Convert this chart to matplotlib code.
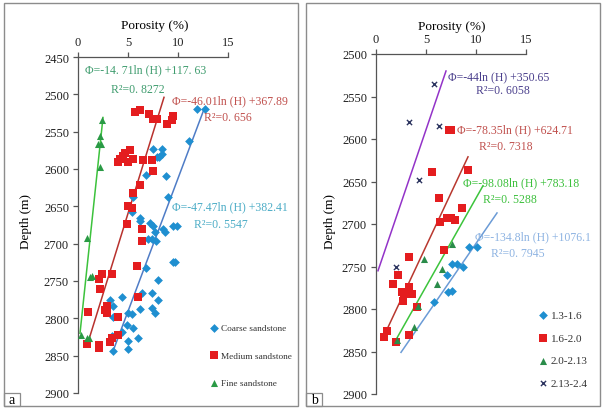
import matplotlib
matplotlib.use("Agg")
import matplotlib.pyplot as plt
from matplotlib.patches import Rectangle

plt.rcParams['font.family'] = ['Liberation Serif', 'DejaVu Serif']

# ---- panel a: porosity (%) vs depth (m) by lithology
coarse_x = [11.9, 12.7, 11.1, 7.5, 8.4, 8.1, 8.4, 7.9, 6.8, 8.8, 9.0, 5.5, 5.4, 6.2,
            6.2, 7.2, 7.5, 7.7, 8.5, 8.7, 9.5, 9.9, 7.0, 7.8, 7.4, 9.5, 9.7, 6.8, 8.0,
            6.4, 7.4, 8.0, 4.4, 3.2, 3.5, 6.2, 7.4, 7.7, 5.4, 5.0, 3.5, 4.9, 5.5, 4.4,
            3.5, 6.0, 5.0, 3.4, 5.0, 3.5]
coarse_d = [2520, 2520, 2563, 2573, 2573, 2584, 2580, 2584, 2608, 2610, 2638, 2637, 2657, 2665,
            2670, 2672, 2676, 2685, 2680, 2684, 2677, 2677, 2694, 2697, 2694, 2724, 2724, 2732, 2748,
            2766, 2766, 2775, 2771, 2775, 2783, 2788, 2786, 2793, 2794, 2793, 2798, 2809, 2813, 2818,
            2825, 2826, 2830, 2824, 2841, 2844]
medium_x = [5.7, 6.2, 7.1, 7.5, 7.9, 8.9, 9.5, 9.4, 4.2, 4.5, 4.7, 5.2, 5.0, 5.5, 4.0,
            6.5, 7.4, 7.5, 6.2, 5.5, 5.0, 5.4, 4.9, 6.4, 6.4, 5.9, 3.4, 2.4, 2.1, 2.2,
            6.0, 2.9, 2.7, 2.9, 4.0, 1.0, 0.9, 2.1, 2.1, 3.2, 3.4, 4.0]
medium_d = [2524, 2521, 2527, 2533, 2533, 2540, 2529, 2535, 2587, 2583, 2578, 2574, 2590, 2587, 2591,
            2588, 2588, 2603, 2621, 2632, 2650, 2652, 2674, 2681, 2697, 2730, 2740, 2740, 2747, 2761,
            2772, 2784, 2789, 2793, 2798, 2791, 2834, 2836, 2840, 2832, 2826, 2822]
fine_x = [2.4, 2.2, 2.0, 2.3, 2.2, 0.9, 1.4, 1.2, 0.3, 0.9, 1.1]
fine_d = [2534, 2556, 2566, 2566, 2597, 2693, 2743, 2744, 2822, 2826, 2827]

# trend lines (end points)
fit_a = {
    'fine': ([0.2, 2.5], [2820, 2531]),
    'medium': ([1.1, 8.6], [2828, 2504]),
    'coarse': ([3.5, 12.6], [2844, 2520]),
}

# ---- panel b: porosity (%) vs depth (m) by class
c1_x = [9.3, 10.1, 7.6, 8.1, 8.7, 7.1, 7.2, 7.6, 5.8]
c1_d = [2727, 2727, 2747, 2747, 2751, 2760, 2780, 2779, 2792]
c2_x = [7.3, 7.5, 5.6, 9.2, 6.3, 8.6, 6.4, 7.1, 7.5, 7.9, 6.8, 3.3, 2.2, 1.7,
        2.6, 2.8, 2.7, 3.3, 3.6, 4.1, 0.8, 1.1, 3.3, 2.0]
c2_d = [2589, 2589, 2639, 2636, 2669, 2681, 2698, 2693, 2693, 2695, 2731, 2739, 2760, 2771,
        2780, 2782, 2791, 2774, 2782, 2798, 2833, 2826, 2831, 2839]
c3_x = [7.6, 4.8, 6.6, 6.1, 4.2, 3.8, 2.1]
c3_d = [2724, 2741, 2753, 2770, 2797, 2821, 2837]
c4_x = [5.8, 3.3, 6.3, 4.3, 2.0]
c4_d = [2535, 2580, 2585, 2648, 2750]

fit_b = {
    'c4': ([0.2, 7.0], [2755, 2520]),
    'c2': ([0.9, 9.2], [2829, 2621]),
    'c3': ([2.1, 10.7], [2834, 2655]),
    'c1': ([2.5, 12.1], [2851, 2687]),
}

W, H = 602, 410
fig = plt.figure(figsize=(W / 100, H / 100), dpi=100)


def fx(px):
    return px / W


def fy(py):
    return 1 - py / H


def frame(x0, y0, x1, y1, lw=1.0):
    fig.patches.append(Rectangle((fx(x0), fy(y1)), fx(x1) - fx(x0), fy(y0) - fy(y1),
                                 transform=fig.transFigure, fill=False,
                                 edgecolor='#8c8c8c', lw=lw))


def setup(ax, ylim, yticks):
    ax.set_xlim(0, 15)
    ax.set_ylim(ylim[1], ylim[0])
    ax.set_xticks([0, 5, 10, 15])
    ax.set_yticks(yticks)
    ax.xaxis.tick_top()
    ax.spines['right'].set_visible(False)
    ax.spines['bottom'].set_visible(False)
    for s in ['top', 'left']:
        ax.spines[s].set_color('#555555')
        ax.spines[s].set_linewidth(0.9)
    ax.tick_params(axis='both', direction='out', length=3.5, width=0.9,
                   color='#555555', labelsize=9, labelcolor='#222222')
    ax.tick_params(axis='x', pad=3)
    ax.tick_params(axis='y', pad=3)
    ax.patch.set_alpha(0)


frame(4, 4, 298, 407)
frame(306, 4, 600, 407)

# panel a
ax1 = fig.add_axes([fx(78), fy(394), fx(228) - fx(78), fy(58) - fy(394)])
setup(ax1, (2450, 2900), list(range(2450, 2901, 50)))

ax1.plot(*fit_a['fine'], color='#3cc23c', lw=1.1)
ax1.plot(*fit_a['medium'], color='#b8322e', lw=1.1)
ax1.plot(*fit_a['coarse'], color='#4f7cc6', lw=1.1)
ax1.scatter(coarse_x, coarse_d, marker='D', s=20, color='#1f8fd0', lw=0,
            label='Coarse sandstone', zorder=3)
ax1.scatter(medium_x, medium_d, marker='s', s=34, color='#e41d1f', lw=0,
            label='Medium sandstone', zorder=3)
ax1.scatter(fine_x, fine_d, marker='^', s=26, color='#2a9a45', lw=0,
            label='Fine sandstone', zorder=3)

tk = dict(fontsize=8.5, ha='left', va='center', clip_on=False)
ax1.text(0.7, 2467, 'Φ=-14. 71ln (H) +117. 63', color='#3f9c6e', **tk)
ax1.text(3.3, 2493, 'R²=0. 8272', color='#3f9c6e', **tk)
ax1.text(9.4, 2508, 'Φ=-46.01ln (H) +367.89', color='#c0504d', **tk)
ax1.text(12.6, 2531, 'R²=0. 656', color='#c0504d', **tk)
ax1.text(9.4, 2650, 'Φ=-47.47ln (H) +382.41', color='#4bacc6', **tk)
ax1.text(11.6, 2673, 'R²=0. 5547', color='#4bacc6', **tk)

ax1.legend(loc='upper left', bbox_to_anchor=(fx(204), fy(320)),
           bbox_transform=fig.transFigure, frameon=False, fontsize=6.7,
           labelspacing=2.05, handletextpad=0.1, borderpad=0, handlelength=1.2,
           labelcolor='#333333')

fig.text(fx(155), fy(26), 'Porosity (%)', ha='center', va='center', fontsize=9.5)
fig.text(fx(26), fy(222), 'Depth (m)', ha='center', va='center', rotation=90, fontsize=9.5)

# panel b
ax2 = fig.add_axes([fx(376), fy(395), fx(526) - fx(376), fy(55) - fy(395)])
setup(ax2, (2500, 2900), list(range(2500, 2901, 50)))

ax2.plot(*fit_b['c4'], color='#9333c8', lw=1.1)
ax2.plot(*fit_b['c2'], color='#b8382f', lw=1.1)
ax2.plot(*fit_b['c3'], color='#3cc43c', lw=1.1)
ax2.plot(*fit_b['c1'], color='#6b9bd6', lw=1.1)
ax2.scatter(c1_x, c1_d, marker='D', s=20, color='#1f8fd0', lw=0, label='1.3-1.6', zorder=3)
ax2.scatter(c2_x, c2_d, marker='s', s=34, color='#e41d1f', lw=0, label='1.6-2.0', zorder=3)
ax2.scatter(c3_x, c3_d, marker='^', s=26, color='#2a8c4a', lw=0, label='2.0-2.13', zorder=3)
ax2.scatter(c4_x, c4_d, marker='x', s=14, color='#2d3560', lw=1.0, label='2.13-2.4', zorder=3)

ax2.text(7.2, 2526, 'Φ=-44ln (H) +350.65', color='#4a3f8c', **tk)
ax2.text(10.0, 2542, 'R²=0. 6058', color='#4a3f8c', **tk)
ax2.text(8.1, 2588, 'Φ=-78.35ln (H) +624.71', color='#c0504d', **tk)
ax2.text(10.3, 2608, 'R²=0. 7318', color='#c0504d', **tk)
ax2.text(8.7, 2651, 'Φ=-98.08ln (H) +783.18', color='#3cc03c', **tk)
ax2.text(10.7, 2671, 'R²=0. 5288', color='#3cc03c', **tk)
ax2.text(9.9, 2714, 'Φ=-134.8ln (H) +1076.1', color='#8db3e2', **tk)
ax2.text(11.5, 2734, 'R²=0. 7945', color='#8db3e2', **tk)

ax2.legend(loc='upper left', bbox_to_anchor=(fx(531), fy(306)),
           bbox_transform=fig.transFigure, frameon=False, fontsize=8,
           labelspacing=1.15, handletextpad=0.1, borderpad=0, handlelength=1.2,
           labelcolor='#333333')

fig.text(fx(452), fy(27), 'Porosity (%)', ha='center', va='center', fontsize=9.5)
fig.text(fx(330), fy(222), 'Depth (m)', ha='center', va='center', rotation=90, fontsize=9.5)

# panel letters in small boxes
frame(4, 394, 20, 407, lw=0.9)
frame(306, 394, 322, 407, lw=0.9)
fig.text(fx(12), fy(401), 'a', ha='center', va='center', fontsize=10)
fig.text(fx(314), fy(401), 'b', ha='center', va='center', fontsize=10)

fig.savefig('out.png', dpi=100)
